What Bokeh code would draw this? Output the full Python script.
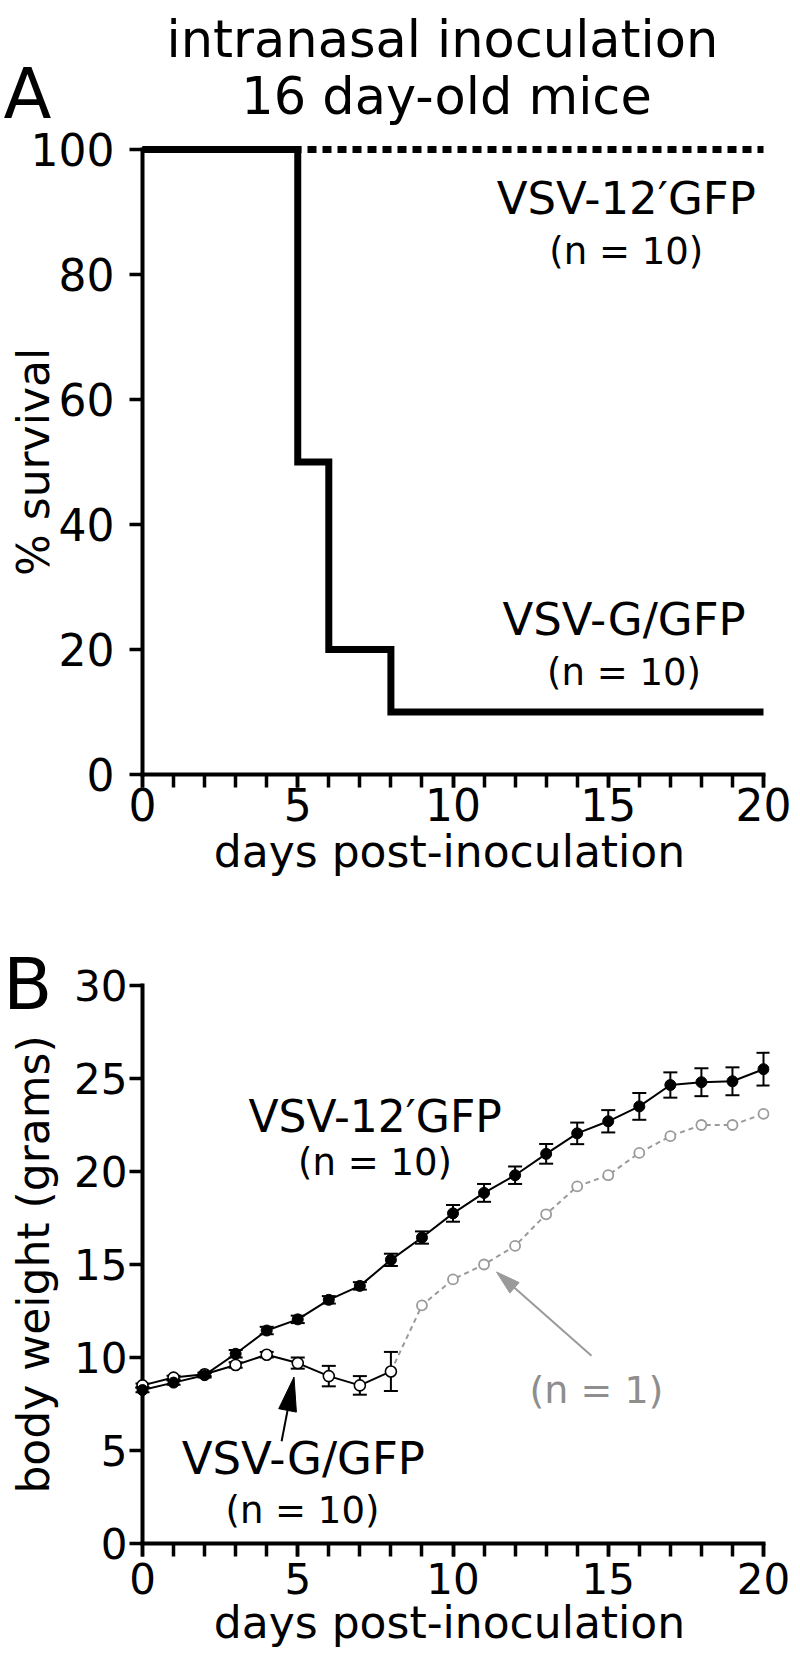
import math
from bokeh.plotting import figure
from bokeh.layouts import column
from bokeh.models import (Range1d, FixedTicker, ColumnDataSource, Whisker, TeeHead,
                          Arrow, LinearAxis)
from bokeh.core.properties import value
from bokeh.embed import file_html
from bokeh.resources import INLINE

FONT = "DejaVu Sans"
GRAY = "#9a9a9a"
GRAY_TXT = "#8e8e8e"

# ---------------- data ----------------
title_lines = ["intranasal inoculation", "16 day-old mice"]
panel_letters = ["A", "B"]

# panel A: survival
surv_x_label = "days post-inoculation"
surv_y_label = "% survival"
surv_xticks = [0, 5, 10, 15, 20]
surv_xminor = list(range(0, 21))
surv_yticks = [0, 20, 40, 60, 80, 100]
gfp_surv_days = [0, 5, 6, 8, 20]
gfp_surv_pct = [100, 50, 20, 10, 10]
d12_surv_days = [0, 20]
d12_surv_pct = [100, 100]
surv_labels_12 = ["VSV-12\u2032GFP", "(n = 10)"]
surv_labels_g = ["VSV-G/GFP", "(n = 10)"]

# panel B: body weight
wt_x_label = "days post-inoculation"
wt_y_label = "body weight (grams)"
wt_xticks = [0, 5, 10, 15, 20]
wt_xminor = list(range(0, 21))
wt_yticks = [0, 5, 10, 15, 20, 25, 30]
d12_days = list(range(0, 21))
d12_wt = [8.25, 8.65, 9.05, 10.2, 11.45, 12.05, 13.1, 13.85, 15.25, 16.45, 17.75,
          18.85, 19.8, 20.95, 22.05, 22.7, 23.5, 24.65, 24.8, 24.85, 25.5]
d12_sem = [0.12, 0.12, 0.12, 0.2, 0.2, 0.2, 0.2, 0.2, 0.33, 0.33, 0.45,
           0.48, 0.47, 0.53, 0.58, 0.6, 0.72, 0.68, 0.75, 0.75, 0.88]
gfp_days = list(range(0, 9))
gfp_wt = [8.5, 8.92, 9.1, 9.6, 10.15, 9.7, 9.0, 8.5, 9.25]
gfp_sem = [0.1, 0.1, 0.1, 0.15, 0.15, 0.3, 0.55, 0.5, 1.05]
one_days = [9, 10, 11, 12, 13, 14, 15, 16, 17, 18, 19, 20]
one_wt = [12.8, 14.2, 15.0, 16.0, 17.7, 19.2, 19.8, 21.0, 21.9, 22.5, 22.5, 23.1]
wt_labels_12 = ["VSV-12\u2032GFP", "(n = 10)"]
wt_labels_g = ["VSV-G/GFP", "(n = 10)"]
wt_label_one = ["(n = 1)"]
# annotation arrows (start -> end, data units of panel B)
arrow_g = dict(xs=4.48, ys=5.5, xe=4.88, ye=8.95)
arrow_one = dict(xs=14.46, ys=10.1, xe=11.4, ye=14.6)

# ---------------- shared geometry (pixels) ----------------
TL = 13                 # tick length
L_BORDER, R_BORDER = 122, 22
FRAME_W = 640
PX_DAY = 31.05
X0 = -TL / PX_DAY
X_RANGE = (X0, X0 + FRAME_W / PX_DAY)
A_PX, B_PX = 6.25, 18.6   # px per y unit in panels A and B


def base_fig(frame_h, y_px, bottom_border):
    y0 = -TL / y_px
    p = figure(frame_width=FRAME_W, frame_height=frame_h,
               x_range=Range1d(*X_RANGE), y_range=Range1d(y0, y0 + frame_h / y_px),
               min_border_left=L_BORDER, min_border_right=R_BORDER, min_border_top=0,
               min_border_bottom=bottom_border, toolbar_location=None,
               output_backend="svg", title=None)
    p.grid.visible = False
    p.outline_line_color = None
    p.background_fill_color = "white"
    p.border_fill_color = "white"
    return p


def style_axes(p, xt, xm, yt, tick_fs, xstand, ystand, xlab_stand):
    xa, ya = p.xaxis[0], p.yaxis[0]
    for ax in (xa, ya):
        ax.axis_line_color = None
        ax.major_tick_out = 0
        ax.major_tick_in = TL
        ax.minor_tick_out = 0
        ax.minor_tick_in = TL
        ax.major_tick_line_width = 3.5
        ax.minor_tick_line_width = 3.5
        ax.major_tick_line_color = "black"
        ax.minor_tick_line_color = "black"
        ax.major_label_text_font = FONT
        ax.major_label_text_font_size = tick_fs
        ax.major_label_text_color = "black"
        ax.axis_label_text_font = FONT
        ax.axis_label_text_font_style = "normal"
        ax.axis_label_text_font_size = "44px"
        ax.axis_label_text_color = "black"
    xa.ticker = FixedTicker(ticks=xt, minor_ticks=xm)
    ya.ticker = FixedTicker(ticks=yt, minor_ticks=[])
    xa.major_label_standoff = xstand
    ya.major_label_standoff = ystand
    xa.axis_label_standoff = xlab_stand
    # axis lines through the origin, spanning the tick range
    p.segment(x0=[xt[0], xt[0]], y0=[yt[0], yt[0]], x1=[xt[0], xt[-1]], y1=[yt[-1], yt[0]],
              line_width=4, line_color="black", line_cap="square")


def text_axis(p, y, text, size, standoff, orientation="horizontal"):
    """A tick-less left axis carrying a single text at data height y."""
    ax = LinearAxis(ticker=FixedTicker(ticks=[y], minor_ticks=[]),
                    major_label_overrides={y: text},
                    axis_line_color=None, major_tick_line_color=None,
                    minor_tick_line_color=None, major_tick_in=0, major_tick_out=0,
                    minor_tick_in=0, minor_tick_out=0,
                    major_label_text_font=FONT, major_label_text_font_size=size,
                    major_label_text_color="black", major_label_standoff=standoff,
                    major_label_orientation=orientation)
    p.add_layout(ax, "left")


def label(p, x, y, text, size, color="black"):
    p.text(x=[x], y=[y], text=[text], text_font=value(FONT), text_font_size=size,
           text_align="center", text_baseline="middle", text_color=color)


def arrow(p, a, y_px, color, head_len, head_half):
    """Shaft as a Bokeh Arrow, plus a long, narrow filled head at the end point."""
    dx = (a["xe"] - a["xs"]) * PX_DAY
    dy = (a["ye"] - a["ys"]) * y_px
    n = math.hypot(dx, dy)
    ux, uy = dx / n, dy / n
    bx, by = a["xe"] - head_len * ux / PX_DAY, a["ye"] - head_len * uy / y_px
    p.add_layout(Arrow(x_start=a["xs"], y_start=a["ys"], x_end=bx, y_end=by, end=None,
                       line_width=2, line_color=color))
    px_, py_ = -uy, ux
    p.patch([a["xe"], bx + head_half * px_ / PX_DAY, bx - head_half * px_ / PX_DAY],
            [a["ye"], by + head_half * py_ / y_px, by - head_half * py_ / y_px],
            fill_color=color, line_color=color, line_width=1)


# ---------------- panel A (with title) ----------------
pa = base_fig(frame_h=787, y_px=A_PX, bottom_border=150)
pa.xaxis.axis_label = surv_x_label
style_axes(pa, surv_xticks, surv_xminor, surv_yticks, "44px",
           xstand=0, ystand=15, xlab_stand=2)
text_axis(pa, (surv_yticks[0] + surv_yticks[-1]) / 2, surv_y_label, "44px", -31, "vertical")
text_axis(pa, 108.9, panel_letters[0], "70px", -47)

pa.text(x=[9.66, 9.79], y=[117.6, 108.48], text=title_lines, text_font=value(FONT),
        text_font_size="51px", text_align="center", text_baseline="alphabetic",
        text_color="black")

pa.line(d12_surv_days, d12_surv_pct, line_width=7, line_color="black", line_dash="9 6")
pa.step(gfp_surv_days, gfp_surv_pct, mode="after", line_width=7, line_color="black",
        line_join="miter")
label(pa, 15.58, 92.2, surv_labels_12[0], "45px")
label(pa, 15.58, 83.7, surv_labels_12[1], "37px")
label(pa, 15.51, 24.8, surv_labels_g[0], "45px")
label(pa, 15.51, 16.3, surv_labels_g[1], "37px")

# ---------------- panel B ----------------
pb = base_fig(frame_h=619, y_px=B_PX, bottom_border=105)
pb.xaxis.axis_label = wt_x_label
style_axes(pb, wt_xticks, wt_xminor, wt_yticks, "42px",
           xstand=6, ystand=2, xlab_stand=0)
text_axis(pb, (wt_yticks[0] + wt_yticks[-1]) / 2, wt_y_label, "44px", 13, "vertical")
text_axis(pb, 30.08, panel_letters[1], "72px", -48)

# n = 1 survivor (dashed grey, continuing from the last group mean)
pb.line([gfp_days[-1]] + one_days, [gfp_wt[-1]] + one_wt, line_color=GRAY, line_width=2,
        line_dash="5 4")
pb.scatter(one_days, one_wt, size=10, fill_color="white", line_color=GRAY, line_width=1.8)

src_g = ColumnDataSource(dict(x=gfp_days, y=gfp_wt,
                              lo=[v - s for v, s in zip(gfp_wt, gfp_sem)],
                              hi=[v + s for v, s in zip(gfp_wt, gfp_sem)]))
src_12 = ColumnDataSource(dict(x=d12_days, y=d12_wt,
                               lo=[v - s for v, s in zip(d12_wt, d12_sem)],
                               hi=[v + s for v, s in zip(d12_wt, d12_sem)]))
for src in (src_g, src_12):
    pb.add_layout(Whisker(base="x", lower="lo", upper="hi", source=src, line_width=2,
                          line_color="black",
                          upper_head=TeeHead(size=14, line_width=2, line_color="black"),
                          lower_head=TeeHead(size=14, line_width=2, line_color="black")))

pb.line("x", "y", source=src_g, line_color="black", line_width=2)
pb.scatter("x", "y", source=src_g, size=11, fill_color="white", line_color="black", line_width=1.6)
pb.line("x", "y", source=src_12, line_color="black", line_width=2)
pb.scatter("x", "y", source=src_12, size=11, fill_color="black", line_color="black")

arrow(pb, arrow_g, B_PX, "black", head_len=34, head_half=9)
arrow(pb, arrow_one, B_PX, GRAY, head_len=24, head_half=7)

label(pb, 7.49, 22.96, wt_labels_12[0], "44px")
label(pb, 7.49, 20.5, wt_labels_12[1], "37px")
label(pb, 5.18, 4.57, wt_labels_g[0], "45px")
label(pb, 5.15, 1.77, wt_labels_g[1], "37px")
label(pb, 14.62, 8.23, wt_label_one[0], "38px", GRAY_TXT)

layout = column(pa, pb)
open("out.html", "w").write(file_html(layout, INLINE))
